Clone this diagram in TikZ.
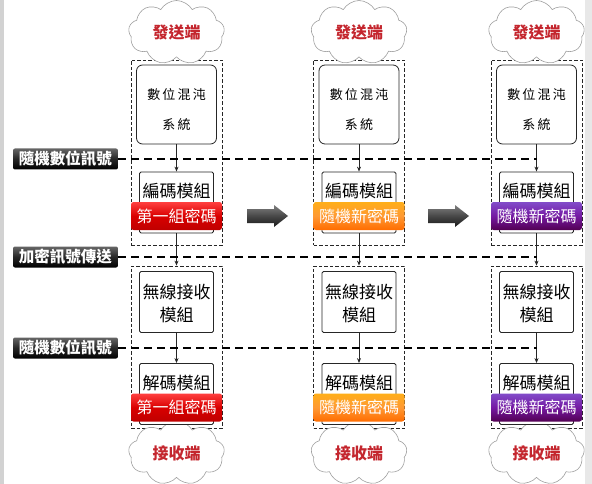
\documentclass[tikz,border=0pt]{standalone}
\usepackage{fontspec}
\newfontfamily\cjk{Noto Sans CJK TC}
\usetikzlibrary{shapes.symbols,arrows.meta}
\definecolor{cloudred}{HTML}{C4262E}
\begin{document}
\begin{tikzpicture}[x=1pt,y=-1pt,
  cloudnode/.style={cloud, cloud puffs=9, cloud puff arc=120, cloud ignores aspect, draw=gray!75, fill=white, line width=0.6pt,
    minimum width=96pt, minimum height=64pt, inner sep=0pt, text=cloudred, font=\cjk\bfseries\fontsize{16}{16}\selectfont},
  dbox/.style={draw=black!85, dash pattern=on 3.5pt off 2pt, line width=0.8pt, minimum width=91pt, inner sep=0pt},
  chaos/.style={draw=black!85, fill=white, rounded corners=6pt, line width=0.8pt, minimum width=80pt, minimum height=79pt, inner sep=0pt},
  chaostext/.style={font=\cjk\fontsize{13}{13}\selectfont, inner sep=0pt},
  module/.style={draw=black!85, fill=white, rounded corners=1.5pt, line width=0.8pt, minimum width=74pt, minimum height=61pt, inner sep=0pt},
  modtext/.style={font=\cjk\fontsize{17}{17}\selectfont, inner sep=0pt},
  badge/.style={rounded corners=2.5pt, minimum width=91pt, minimum height=28pt, inner sep=0pt, text=white, font=\cjk\fontsize{16}{16}\selectfont},
  badgered/.style={badge, top color=red!75!white, bottom color=red!75!black, middle color=red!85!black},
  badgeorange/.style={badge, top color=orange!70!yellow!90!white, bottom color=orange!85!red, middle color=orange!80!white},
  badgepurple/.style={badge, top color=violet!60!blue!70!white, bottom color=violet!65!black, middle color=violet!80!blue!90!white},
  sidelabel/.style={rounded corners=2pt, top color=black!60, bottom color=black, middle color=black!85, text=white,
    minimum width=105pt, minimum height=21pt, inner sep=0pt, font=\cjk\bfseries\fontsize{15.5}{15.5}\selectfont},
  bigarrow/.style={top color=black!50, bottom color=black!90, middle color=black!72},
  conn/.style={draw=black!85, line width=0.8pt, -{Stealth[length=5pt,width=4pt]}},
  hline/.style={draw=black, line width=2pt, dash pattern=on 8pt off 5pt}
]
\useasboundingbox (0,0) rectangle (592,484);
\fill[gray!35] (0,0) rectangle (4,484);
\fill[gray!18] (585,0) rectangle (592,484);

% side labels
\node[sidelabel] (L1) at (65.5,159) {隨機數位訊號};
\node[sidelabel] (L2) at (65.5,257) {加密訊號傳送};
\node[sidelabel] (L3) at (65.5,348) {隨機數位訊號};

% columns
\foreach \cx/\n/\bs/\bt in {176.5/1/badgered/第一組密碼, 359/2/badgeorange/隨機新密碼, 536.5/3/badgepurple/隨機新密碼}{
  \node[dbox, minimum height=185pt] (up\n) at (\cx,152.5) {};
  \node[dbox, minimum height=162pt] (lo\n) at (\cx,347) {};
  \node[cloudnode] (snd\n) at (\cx,32.5) {發送端};
  \node[cloudnode] (rcv\n) at (\cx,453) {接收端};
  \node[chaos] (chs\n) at (\cx,104.5) {};
  \node[chaostext] (chsa\n) at (\cx,95) {數\,位\,混\,沌};
  \node[chaostext] (chsb\n) at (\cx,125) {系\,統};
  \node[module] (enc\n) at (\cx,202.5) {};
  \node[modtext] (enct\n) at (\cx,191) {編碼模組};
  \node[\bs] (encb\n) at (\cx,216) {\bt};
  \node[module] (rx\n) at (\cx,302) {};
  \node[modtext] (rxa\n) at (\cx,292) {無線接收};
  \node[modtext] (rxb\n) at (\cx,315) {模組};
  \node[module] (dec\n) at (\cx,394) {};
  \node[modtext] (dect\n) at (\cx,383) {解碼模組};
  \node[\bs] (decb\n) at (\cx,407.5) {\bt};
  \draw[conn] (chs\n.south) -- (enc\n.north);
  \draw[conn] (enc\n.south) -- (lo\n.north);
  \draw[conn] (rx\n.south) -- (dec\n.north);
}

% big arrows
\foreach \ax in {247,428}{
  \shade[bigarrow] (\ax,209) -- ++(27,0) -- ++(0,-4) -- ++(14,11) -- ++(-14,11) -- ++(0,-4) -- ++(-27,0) -- cycle;
}

% dashed signal lines
\coordinate (e1) at (536.5,160);
\coordinate (e2) at (536.5,256);
\coordinate (e3) at (536.5,347);
\draw[hline] (L1.east) -- (L1.east -| e1);
\draw[hline] (L2.east) -- (L2.east -| e2);
\draw[hline] (L3.east) -- (L3.east -| e3);
\end{tikzpicture}
\end{document}
